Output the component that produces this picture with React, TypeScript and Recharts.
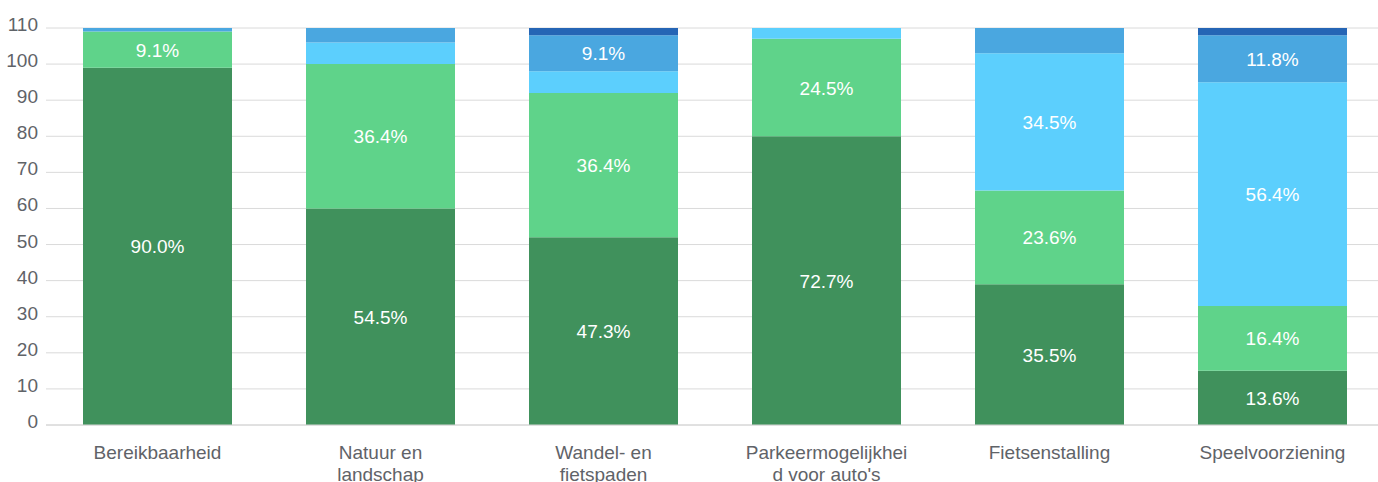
import { BarChart, Bar, XAxis, YAxis, CartesianGrid, LabelList } from 'recharts'

// counts per category (110 respondents), stacked bottom -> top
const respondents = 110
const categories = ['Bereikbaarheid', 'Natuur en landschap', 'Wandel- en fietspaden', "Parkeermogelijkheid voor auto's", 'Fietsenstalling', 'Speelvoorziening']
const tickLines = [['Bereikbaarheid'], ['Natuur en', 'landschap'], ['Wandel- en', 'fietspaden'], ['Parkeermogelijkhei', "d voor auto's"], ['Fietsenstalling'], ['Speelvoorziening']]
const series1 = [99, 60, 52, 80, 39, 15]
const series2 = [10, 40, 40, 27, 26, 18]
const series3 = [0, 6, 6, 3, 38, 62]
const series4 = [1, 4, 10, 0, 7, 13]
const series5 = [0, 0, 2, 0, 0, 2]
const yTicks = [0, 10, 20, 30, 40, 50, 60, 70, 80, 90, 100, 110]

const seriesList = [
  { key: 's1', values: series1, color: '#40915C' },
  { key: 's2', values: series2, color: '#5FD38A' },
  { key: 's3', values: series3, color: '#5CCFFD' },
  { key: 's4', values: series4, color: '#4AA7E0' },
  { key: 's5', values: series5, color: '#2565B5' },
]

const data = categories.map((name, i) => {
  const row: Record<string, any> = { name }
  seriesList.forEach((s) => {
    row[s.key] = s.values[i]
  })
  return row
})

const FONT = '"Liberation Sans", Arial, sans-serif'

function XTick(props: any) {
  const { x, y, payload } = props
  const lines = tickLines[payload.index] || [payload.value]
  return (
    <g>
      {lines.map((line, i) => (
        <text key={i} x={x} y={y + 26 + i * 22} textAnchor="middle" fill="#5f6368" fontSize={19} fontFamily={FONT}>
          {line}
        </text>
      ))}
    </g>
  )
}

function YTick(props: any) {
  const { x, y, payload } = props
  return (
    <text x={x} y={y + 3} textAnchor="end" fill="#5f6368" fontSize={19} fontFamily={FONT}>
      {payload.value}
    </text>
  )
}

function SegmentLabel(props: any) {
  const { x, y, width, height, value } = props
  const pct = (Number(value) / respondents) * 100
  if (!(pct >= 8)) return null
  return (
    <text x={x + width / 2} y={y + height / 2 + 7} textAnchor="middle" fill="#ffffff" fontSize={19} fontFamily={FONT}>
      {pct.toFixed(1) + '%'}
    </text>
  )
}

export default function App() {
  return (
    <div style={{ position: 'fixed', left: 0, top: 0, width: 1378, height: 482, overflow: 'hidden', background: '#fff' }}>
      <BarChart width={1384} height={482} data={data} margin={{ top: 28, right: 0, bottom: 0, left: 0 }} barSize={149}>
        <CartesianGrid vertical={false} stroke="#dadada" />
        <XAxis dataKey="name" height={57} tickLine={false} axisLine={{ stroke: '#d4d4d4' }} tick={<XTick />} interval={0} />
        <YAxis width={46} domain={[0, 110]} ticks={yTicks} tickLine={false} axisLine={false} tick={<YTick />} />
        {seriesList.map((s) => (
          <Bar key={s.key} dataKey={s.key} stackId="a" fill={s.color} isAnimationActive={false}>
            <LabelList dataKey={s.key} content={<SegmentLabel />} />
          </Bar>
        ))}
      </BarChart>
    </div>
  )
}
